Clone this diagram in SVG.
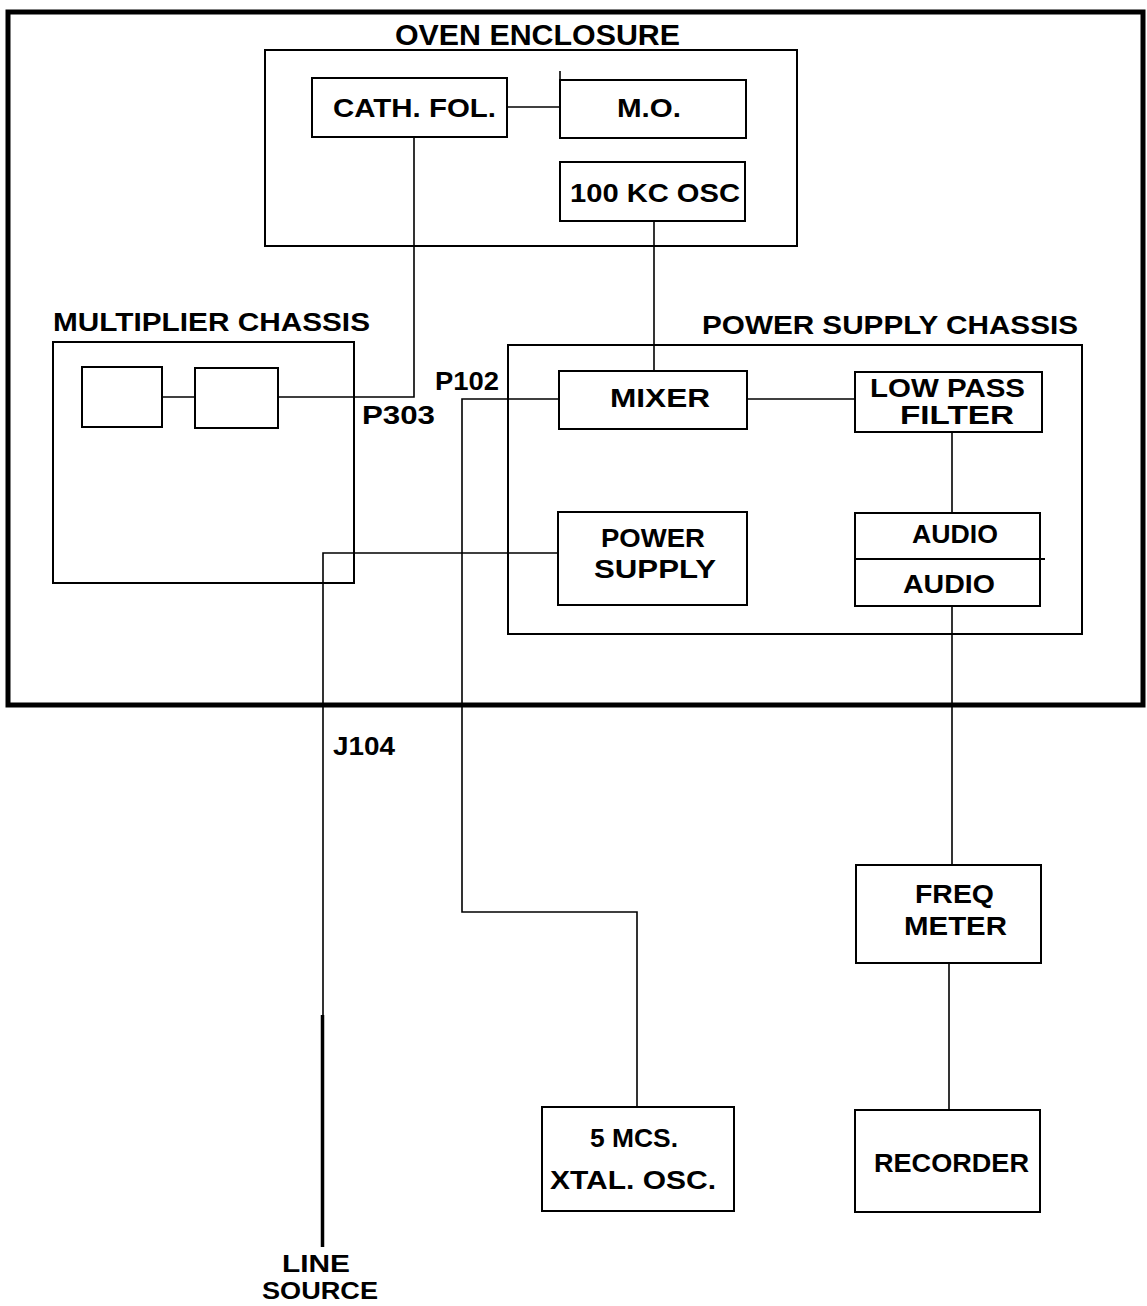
<svg xmlns="http://www.w3.org/2000/svg" width="1147" height="1306" viewBox="0 0 1147 1306">
<style>
.box{fill:none;stroke:#000;stroke-width:2}
.frame{fill:none;stroke:#000;stroke-width:5}
.wire{fill:none;stroke:#000;stroke-width:1.6}
text{font-family:"Liberation Sans",Arial,sans-serif;font-size:26px;fill:#000;font-weight:bold}
.big{font-size:29px}
.sm{font-size:23px}
</style>
<rect width="1147" height="1306" fill="#fff"/>
<g id="outer-frame"><rect class="frame" x="8" y="12" width="1135" height="693"/></g>
<g id="oven-enclosure">
<rect class="box" x="265" y="50" width="532" height="196"/>
<text class="big" x="395" y="45" textLength="285" lengthAdjust="spacingAndGlyphs">OVEN ENCLOSURE</text>
</g>
<g id="cath-fol"><rect class="box" x="312" y="78" width="195" height="59"/><text x="333" y="117" textLength="163" lengthAdjust="spacingAndGlyphs">CATH. FOL.</text></g>
<g id="mo"><rect class="box" x="560" y="80" width="186" height="58"/><line class="wire" x1="560" y1="71" x2="560" y2="80"/><text x="617" y="117" textLength="64" lengthAdjust="spacingAndGlyphs">M.O.</text></g>
<g id="osc100"><rect class="box" x="560" y="162" width="185" height="59"/><text x="570" y="202" textLength="170" lengthAdjust="spacingAndGlyphs">100 KC OSC</text></g>
<g id="multiplier-chassis">
<rect class="box" x="53" y="342" width="301" height="241"/>
<text x="53" y="331" textLength="317" lengthAdjust="spacingAndGlyphs">MULTIPLIER CHASSIS</text>
</g>
<g id="mult-box1"><rect class="box" x="82" y="367" width="80" height="60"/></g>
<g id="mult-box2"><rect class="box" x="195" y="368" width="83" height="60"/></g>
<g id="power-supply-chassis">
<rect class="box" x="508" y="345" width="574" height="289"/>
<text x="702" y="334" textLength="376" lengthAdjust="spacingAndGlyphs">POWER SUPPLY CHASSIS</text>
</g>
<g id="mixer"><rect class="box" x="559" y="371" width="188" height="58"/><text x="610" y="407" textLength="100" lengthAdjust="spacingAndGlyphs">MIXER</text></g>
<g id="lpf"><rect class="box" x="855" y="372" width="187" height="60"/><text x="870" y="397" textLength="155" lengthAdjust="spacingAndGlyphs">LOW PASS</text><text x="900" y="424" textLength="114" lengthAdjust="spacingAndGlyphs">FILTER</text></g>
<g id="power-supply"><rect class="box" x="558" y="512" width="189" height="93"/><text x="601" y="547" textLength="104" lengthAdjust="spacingAndGlyphs">POWER</text><text x="594" y="578" textLength="122" lengthAdjust="spacingAndGlyphs">SUPPLY</text></g>
<g id="audio"><rect class="box" x="855" y="513" width="185" height="93"/><line class="box" x1="855" y1="559" x2="1045" y2="559"/><text x="912" y="543" textLength="86" lengthAdjust="spacingAndGlyphs">AUDIO</text><text x="903" y="593" textLength="92" lengthAdjust="spacingAndGlyphs">AUDIO</text></g>
<g id="freq-meter"><rect class="box" x="856" y="865" width="185" height="98"/><text x="915" y="903" textLength="79" lengthAdjust="spacingAndGlyphs">FREQ</text><text x="904" y="935" textLength="103" lengthAdjust="spacingAndGlyphs">METER</text></g>
<g id="recorder"><rect class="box" x="855" y="1110" width="185" height="102"/><text x="874" y="1172" textLength="155" lengthAdjust="spacingAndGlyphs">RECORDER</text></g>
<g id="xtal-osc"><rect class="box" x="542" y="1107" width="192" height="104"/><text x="590" y="1147" textLength="88" lengthAdjust="spacingAndGlyphs">5 MCS.</text><text x="550" y="1189" textLength="166" lengthAdjust="spacingAndGlyphs">XTAL. OSC.</text></g>
<g id="labels">
<text x="362" y="424" textLength="73" lengthAdjust="spacingAndGlyphs">P303</text>
<text x="435" y="390" textLength="64" lengthAdjust="spacingAndGlyphs">P102</text>
<text x="333" y="755" textLength="62" lengthAdjust="spacingAndGlyphs">J104</text>
<text class="sm" x="282" y="1272" textLength="68" lengthAdjust="spacingAndGlyphs">LINE</text>
<text class="sm" x="262" y="1299" textLength="116" lengthAdjust="spacingAndGlyphs">SOURCE</text>
</g>
<g id="connectors">
<path class="wire" d="M507,107 H560"/>
<path class="wire" d="M278,397 H414 V137"/>
<path class="wire" d="M162,397 H195"/>
<path class="wire" d="M654,221 V371"/>
<path class="wire" d="M747,399 H855"/>
<path class="wire" d="M952,432 V513"/>
<path class="wire" d="M952,606 V865"/>
<path class="wire" d="M949,963 V1110"/>
<path class="wire" d="M559,399 H462 V912 H637 V1107"/>
<path class="wire" d="M558,553 H323 V1020"/>
<path d="M322.5,1015 V1247" stroke="#000" stroke-width="3.5" fill="none"/>
</g>
</svg>
